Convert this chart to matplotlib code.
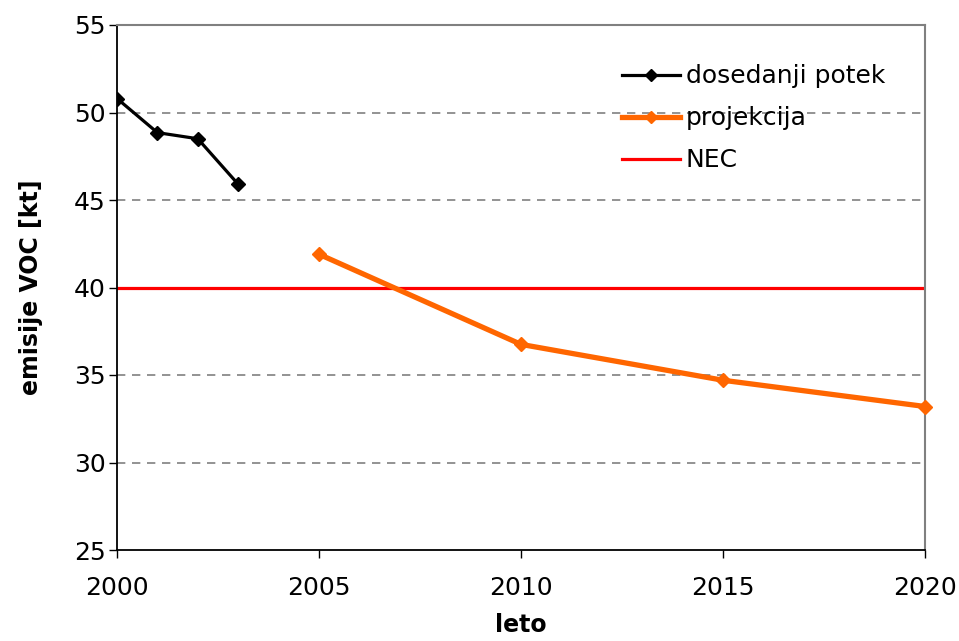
import matplotlib
matplotlib.use("Agg")
import matplotlib.pyplot as plt

years_hist = [2000, 2001, 2002, 2003]
voc_hist = [50.8, 48.85, 48.5, 45.9]
years_proj = [2005, 2010, 2015, 2020]
voc_proj = [41.9, 36.75, 34.7, 33.2]
nec_limit = 40
x_ticks = [2000, 2005, 2010, 2015, 2020]
y_ticks = [25, 30, 35, 40, 45, 50, 55]
labels = ["dosedanji potek", "projekcija", "NEC"]

plt.rcParams['font.family'] = ['DejaVu Sans']
fig = plt.figure(figsize=(9.59, 6.41), dpi=100)
ax = fig.add_axes([117/959, 91/641, 808/959, 525/641])

for y in y_ticks[1:-1]:
    ax.axhline(y, color='#808080', lw=1.2, ls=(0, (5, 4)), zorder=1)

ax.plot(years_hist, voc_hist, color='black', lw=2.3, marker='D', ms=7,
        label=labels[0], zorder=3)
ax.plot(years_proj, voc_proj, color='#FF6600', lw=3.8, marker='D', ms=7,
        label=labels[1], zorder=3, clip_on=False)
ax.axhline(nec_limit, color='#FF0000', lw=2.3, label=labels[2], zorder=2)

ax.set_xlim(2000, 2020)
ax.set_ylim(25, 55)
ax.set_xticks(x_ticks)
ax.set_yticks(y_ticks)
ax.tick_params(axis='both', labelsize=18, direction='out', length=6, width=1)
ax.tick_params(axis='x', pad=13)
ax.tick_params(axis='y', pad=2)

for s in ['top', 'right']:
    ax.spines[s].set_color('#808080')
    ax.spines[s].set_linewidth(1.5)
for s in ['left', 'bottom']:
    ax.spines[s].set_color('black')
    ax.spines[s].set_linewidth(1.3)

ax.set_xlabel('leto', fontsize=17, fontweight='bold', labelpad=9)
ax.set_ylabel('emisije VOC [kt]', fontsize=17, fontweight='bold', labelpad=22)

leg = ax.legend(loc='upper left', bbox_to_anchor=(0.625, 0.925), frameon=False,
                fontsize=18, handlelength=2.3, handletextpad=0.25,
                labelspacing=0.72, borderpad=0, borderaxespad=0)
for h in leg.get_lines():
    h.set_markersize(6)

fig.savefig('out.png', dpi=100)
